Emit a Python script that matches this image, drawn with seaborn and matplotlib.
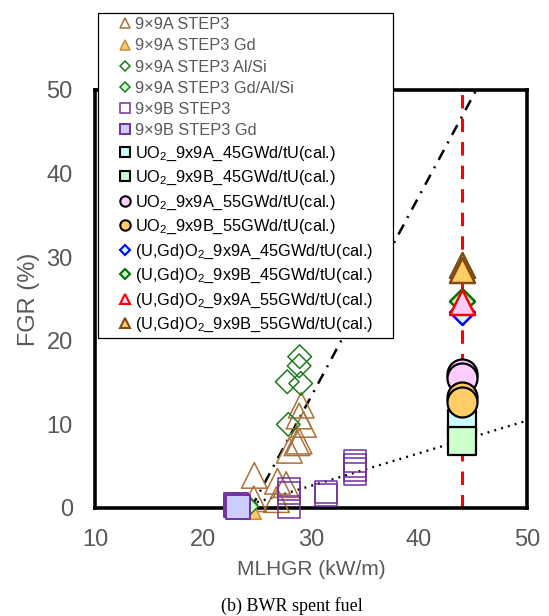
import matplotlib
matplotlib.use("Agg")
import matplotlib.pyplot as plt
from matplotlib.lines import Line2D
import seaborn as sns
import pandas as pd

sns.set_theme(style="white")
plt.rcParams["font.family"] = ["Liberation Sans", "DejaVu Sans"]
plt.rcParams["mathtext.fontset"] = "custom"
plt.rcParams["mathtext.rm"] = "Liberation Sans"
plt.rcParams["mathtext.default"] = "regular"

# ---- measured data (MLHGR in kW/m, FGR in %) ----
a_step3_x = [24.75, 24.7, 26.9, 26.8, 27.7, 28.0, 28.7, 28.9, 29.3, 28.9, 29.1]
a_step3_y = [3.9, 1.1, 3.2, 1.0, 2.8, 6.9, 7.8, 8.0, 10.0, 11.0, 12.3]

a_step3_gd_x = [24.0, 24.2]
a_step3_gd_y = [0.4, 0.2]

a_alsi_x = [28.95, 28.9, 27.8, 29.05, 27.9]
a_alsi_y = [18.1, 17.0, 15.1, 14.9, 10.0]

a_gd_alsi_x = [23.9, 24.0]
a_gd_alsi_y = [0.45, 0.25]

b_step3_x = [27.95, 27.95, 27.95, 31.4, 31.4, 34.05, 34.05, 34.05, 34.05]
b_step3_y = [2.3, 1.8, 0.1, 1.95, 1.55, 5.6, 5.1, 4.6, 4.1]

b_step3_gd_x = [23.1, 23.25]
b_step3_gd_y = [0.3, 0.15]

# ---- calculated values at the rated MLHGR ----
calc_x = 44.0
uo2_a45 = [10.0]
uo2_b45 = [8.0]
uo2_a55 = [16.0, 15.5]
uo2_b55 = [13.3, 12.7]
gd_a45 = [23.4]
gd_b45 = [24.8]
gd_a55 = [24.7]
gd_b55 = [29.1, 28.5]

# ---- trend lines ----
upper_fit_x = [24.45, 45.3]
upper_fit_y = [0.0, 50.0]
lower_fit_x = [25.0, 50.0]
lower_fit_y = [0.7, 10.45]

BROWN = "#A9713B"
GREEN = "#1E7B1E"
PURPLE = "#7030A0"
GRAY = "#595959"

fig = plt.figure(figsize=(5.49, 6.16), dpi=100)
ax = fig.add_axes([95 / 549, 1 - 508 / 616, 432 / 549, 418 / 616])

ax.axvline(calc_x, color="red", lw=2.2, ls=(0, (4.4, 3.3)), zorder=1)
sns.lineplot(x=upper_fit_x, y=upper_fit_y, ax=ax, color="black", lw=1.8,
             ls=(0, (4.5, 3.0, 0.8, 3.0)), estimator=None, zorder=2)
sns.lineplot(x=lower_fit_x, y=lower_fit_y, ax=ax, color="black", lw=1.7,
             ls=(0, (0.8, 2.2)), estimator=None, zorder=2)

series = [
    # x, y, marker, s, face, edge, lw, legend label, legend marker size
    (a_step3_x, a_step3_y, "^", 340, "none", BROWN, 1.1, "9×9A STEP3", 7.5),
    (a_step3_gd_x, a_step3_gd_y, "^", 340, "#FFC766", "#C59040", 1.1, "9×9A STEP3 Gd", 7.5),
    (a_alsi_x, a_alsi_y, "D", 145, "none", GREEN, 1.1, "9×9A STEP3 Al/Si", 5.2),
    (a_gd_alsi_x, a_gd_alsi_y, "D", 145, "#CCFFCC", GREEN, 1.1, "9×9A STEP3 Gd/Al/Si", 5.2),
    (b_step3_x, b_step3_y, "s", 260, "none", PURPLE, 1.1, "9×9B STEP3", 7.0),
    (b_step3_gd_x, b_step3_gd_y, "s", 280, "#CCCCFF", PURPLE, 1.4, "9×9B STEP3 Gd", 7.0),
    ([calc_x] * len(uo2_a45), uo2_a45, "s", 378, "#CCFFFF", "black", 1.6,
     "UO$_2$_9x9A_45GWd/tU(cal.)", 7.0),
    ([calc_x] * len(uo2_b45), uo2_b45, "s", 378, "#CCFFCC", "black", 1.6,
     "UO$_2$_9x9B_45GWd/tU(cal.)", 7.0),
    ([calc_x] * len(uo2_a55), uo2_a55, "o", 467, "#FFCCFF", "black", 1.6,
     "UO$_2$_9x9A_55GWd/tU(cal.)", 7.5),
    ([calc_x] * len(uo2_b55), uo2_b55, "o", 467, "#FFCC66", "black", 1.6,
     "UO$_2$_9x9B_55GWd/tU(cal.)", 7.5),
    ([calc_x] * len(gd_a45), gd_a45, "D", 162, "#CCFFFF", "#0000FF", 1.8,
     "(U,Gd)O$_2$_9x9A_45GWd/tU(cal.)", 5.2),
    ([calc_x] * len(gd_b45), gd_b45, "D", 162, "#CCFFCC", "#007000", 1.8,
     "(U,Gd)O$_2$_9x9B_45GWd/tU(cal.)", 5.2),
    ([calc_x] * len(gd_a55), gd_a55, "^", 324, "#FFCCFF", "#FF0000", 1.8,
     "(U,Gd)O$_2$_9x9A_55GWd/tU(cal.)", 7.5),
    ([calc_x] * len(gd_b55), gd_b55, "^", 324, "#FFCC66", "#7F4A14", 1.8,
     "(U,Gd)O$_2$_9x9B_55GWd/tU(cal.)", 7.5),
]

handles, labels = [], []
for i, (xs, ys, mk, s, fc, ec, lw, lab, ms) in enumerate(series):
    df = pd.DataFrame({"MLHGR": xs, "FGR": ys})
    sns.scatterplot(data=df, x="MLHGR", y="FGR", ax=ax, marker=mk, s=s,
                    facecolor=fc, edgecolor=ec, linewidth=lw,
                    zorder=3 + i * 0.01, clip_on=False)
    handles.append(Line2D([], [], ls="none", marker=mk, markersize=ms,
                          markerfacecolor=fc if fc != "none" else "white",
                          markeredgecolor=ec, markeredgewidth=min(lw, 1.5)))
    labels.append(lab)

ax.set_xlim(10, 50)
ax.set_ylim(0, 50)
ax.set_xticks([10, 20, 30, 40, 50])
ax.set_yticks([0, 10, 20, 30, 40, 50])
ax.tick_params(axis="both", direction="in", length=5, width=2.2, color="black",
               labelcolor=GRAY, labelsize=17)
ax.tick_params(axis="x", pad=15)
ax.tick_params(axis="y", pad=16)
for sp in ax.spines.values():
    sp.set_visible(True)
    sp.set_color("black")
    sp.set_linewidth(2.6)
ax.set_xlabel("MLHGR (kW/m)", fontsize=15, color=GRAY, labelpad=6.5)
ax.set_ylabel("FGR (%)", fontsize=17, color=GRAY, labelpad=5)
ax.grid(False)

leg = ax.legend(handles, labels, loc="upper left", mode="expand",
                bbox_to_anchor=(98 / 549, 1 - 339 / 616, 295 / 549, 326 / 616),
                bbox_transform=fig.transFigure, fontsize=11.8, frameon=True,
                fancybox=False, framealpha=1, edgecolor="black", borderpad=0.25,
                labelspacing=0.38, handlelength=2.8, handletextpad=-0.8,
                borderaxespad=0)
leg.get_frame().set_linewidth(0.9)
leg.set_zorder(10)
for k, t in enumerate(leg.get_texts()):
    t.set_color(GRAY if k < 6 else "black")

fig.text(292 / 549, 1 - 606 / 616, "(b) BWR spent fuel", ha="center", va="center",
         fontsize=13, family=["Liberation Serif", "DejaVu Serif"], color="black")

fig.savefig("out.png", dpi=100)
